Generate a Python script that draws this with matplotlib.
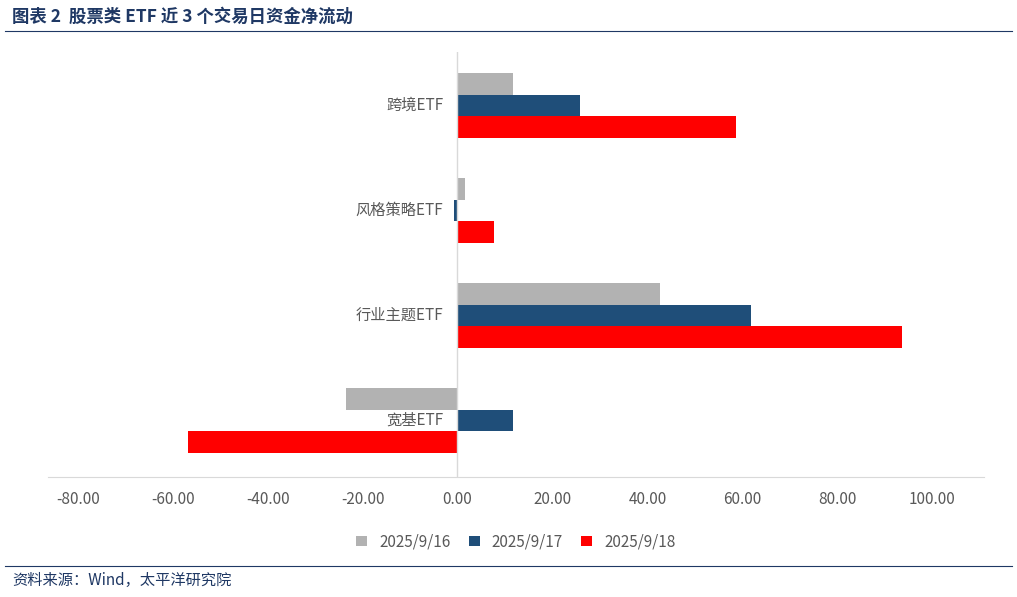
import matplotlib
matplotlib.use("Agg")
import matplotlib.pyplot as plt
import numpy as np

plt.rcParams['font.family'] = ['Noto Sans CJK SC', 'DejaVu Sans']

categories = ['宽基ETF', '行业主题ETF', '风格策略ETF', '跨境ETF']
s_0916 = [-23.4, 42.7, 1.5, 11.6]
s_0917 = [11.6, 61.9, -0.8, 25.9]
s_0918 = [-56.8, 93.7, 7.6, 58.7]
series_names = ['2025/9/16', '2025/9/17', '2025/9/18']
colors = ['#B2B2B2', '#1F4E79', '#FF0000']
xticks = np.arange(-80, 101, 20)

fig = plt.figure(figsize=(10.17, 5.97), dpi=100)
ax = fig.add_axes([0.047, 0.201, 0.921, 0.712])

y = np.arange(len(categories))
h = 0.205
for i, (vals, name, c) in enumerate(zip([s_0916, s_0917, s_0918], series_names, colors)):
    ax.barh(y + (1 - i) * h, vals, height=h, color=c, label=name)

ax.set_xlim(-86.3, 111)
ax.set_ylim(-0.54, 3.51)
ax.set_xticks(xticks)
ax.set_xticklabels([f'{v:.2f}' for v in xticks], fontsize=11, color='#595959')
ax.tick_params(axis='x', length=0, pad=10)
ax.set_yticks([])
for s in ['top', 'right', 'left']:
    ax.spines[s].set_visible(False)
ax.spines['bottom'].set_color('#D9D9D9')
ax.axvline(0, color='#D9D9D9', lw=1)
for yi, cat in zip(y, categories):
    ax.text(-3, yi, cat, ha='right', va='center', fontsize=11, color='#595959')

ax.legend(loc='upper center', bbox_to_anchor=(0.5, -0.1), ncol=3, frameon=False,
          fontsize=11, handlelength=0.7, handleheight=0.7, columnspacing=1.2,
          labelcolor='#595959')

fig.text(0.012, 0.972, '图表 2  股票类 ETF 近 3 个交易日资金净流动', fontsize=12.5,
         fontweight='bold', color='#1F3864', va='center')
fig.add_artist(plt.Line2D([0.005, 0.995], [0.948, 0.948], color='#1F3864', lw=0.8))
fig.add_artist(plt.Line2D([0.005, 0.995], [0.052, 0.052], color='#1F3864', lw=0.8))
fig.text(0.012, 0.027, '资料来源：Wind，太平洋研究院', fontsize=11, color='#1F3864', va='center')

fig.savefig('out.png', dpi=100)
